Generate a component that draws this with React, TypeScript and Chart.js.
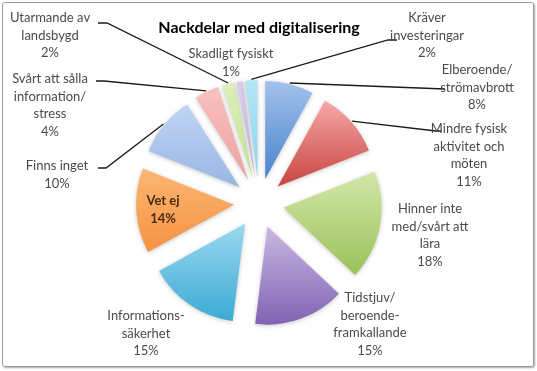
import React, { useEffect, useRef } from 'react';
import { Chart, registerables } from 'chart.js';

Chart.register(...registerables);

// ---- data ----
const TITLE = 'Nackdelar med digitalisering';
const categories = [
  'Elberoende/ strömavbrott',
  'Mindre fysisk aktivitet och möten',
  'Hinner inte med/svårt att lära',
  'Tidstjuv/ beroende-framkallande',
  'Informations-säkerhet',
  'Vet ej',
  'Finns inget',
  'Svårt att sålla information/ stress',
  'Utarmande av landsbygd',
  'Skadligt fysiskt',
  'Kräver investeringar',
];
const values = [8, 11, 18, 15, 15, 14, 10, 4, 2, 1, 2];
const labelLines = [
  ['Elberoende/', 'strömavbrott'],
  ['Mindre fysisk', 'aktivitet och', 'möten'],
  ['Hinner inte', 'med/svårt att', 'lära'],
  ['Tidstjuv/', 'beroende-', 'framkallande'],
  ['Informations-', 'säkerhet'],
  ['Vet ej'],
  ['Finns inget'],
  ['Svårt att sålla', 'information/', 'stress'],
  ['Utarmande av', 'landsbygd'],
  ['Skadligt fysiskt'],
  ['Kräver', 'investeringar'],
];

// ---- style ----
const PALETTE: [string, string][] = [
  ['#a3c2ec', '#4a84cc'],
  ['#f5a9a7', '#c94441'],
  ['#d2e8a8', '#9bc15a'],
  ['#c9b9e2', '#8163b4'],
  ['#9ad9f0', '#3caad4'],
  ['#fcb674', '#f59342'],
  ['#c0d5f4', '#98b6e4'],
  ['#f9c0c0', '#eda2a2'],
  ['#ddf0b8', '#c6e096'],
  ['#d8cfec', '#bfb1dd'],
  ['#b3e6f6', '#8fd4ed'],
];
const EXPLODE = 25;
const RADIUS = 98;
const FONT = 'Lato, "Open Sans", sans-serif';
const LINE_H = 17.6;
// label text anchor (center x, first line y) and leader stub points near the label
const LABEL_LAYOUT: { x: number; y: number; bold?: boolean; color?: string; leader?: [number, number][] }[] = [
  { x: 477, y: 70, leader: [[445, 89]] },
  { x: 469, y: 129, leader: [[442, 131], [436, 131]] },
  { x: 430, y: 209 },
  { x: 370, y: 298 },
  { x: 146, y: 316 },
  { x: 163, y: 201, bold: true, color: '#4a2a10' },
  { x: 57, y: 166, leader: [[98, 168], [106, 168]] },
  { x: 50, y: 79, leader: [[96, 81], [104, 81]] },
  { x: 50, y: 18, leader: [[98, 23], [107, 23]] },
  { x: 231, y: 54 },
  { x: 427, y: 18, leader: [[397, 40], [388, 40]] },
];

const piePlugin = {
  id: 'explodedPie',
  beforeDatasetsDraw(chart: any) {
    const meta = chart.getDatasetMeta(0);
    const ca = chart.chartArea;
    const cx = (ca.left + ca.right) / 2;
    const cy = (ca.top + ca.bottom) / 2;
    const ctx = chart.ctx;
    meta.data.forEach((arc: any, i: number) => {
      const mid = (arc.startAngle + arc.endAngle) / 2;
      arc.x = cx + Math.cos(mid) * EXPLODE;
      arc.y = cy + Math.sin(mid) * EXPLODE;
      let minY = arc.y;
      let maxY = arc.y;
      for (let k = 0; k <= 60; k++) {
        const a = arc.startAngle + ((arc.endAngle - arc.startAngle) * k) / 60;
        const y = arc.y + Math.sin(a) * arc.outerRadius;
        minY = Math.min(minY, y);
        maxY = Math.max(maxY, y);
      }
      const g = ctx.createLinearGradient(0, minY, 0, maxY);
      g.addColorStop(0, PALETTE[i][0]);
      g.addColorStop(1, PALETTE[i][1]);
      arc.options = Object.assign({}, arc.options, { backgroundColor: g });
    });
    ctx.save();
    ctx.shadowColor = 'rgba(0,0,0,0.22)';
    ctx.shadowBlur = 4;
    ctx.shadowOffsetY = 1;
  },
  afterDatasetsDraw(chart: any) {
    const ctx = chart.ctx;
    ctx.restore();
    const meta = chart.getDatasetMeta(0);
    ctx.save();
    // leader lines
    ctx.strokeStyle = '#1a1a1a';
    ctx.lineWidth = 1.3;
    meta.data.forEach((arc: any, i: number) => {
      const lay = LABEL_LAYOUT[i];
      if (!lay.leader) return;
      const mid = (arc.startAngle + arc.endAngle) / 2;
      const ex = arc.x + Math.cos(mid) * (arc.outerRadius + 1);
      const ey = arc.y + Math.sin(mid) * (arc.outerRadius + 1);
      ctx.beginPath();
      lay.leader.forEach((p, k) => (k === 0 ? ctx.moveTo(p[0], p[1]) : ctx.lineTo(p[0], p[1])));
      ctx.lineTo(ex, ey);
      ctx.stroke();
    });
    // labels
    ctx.textAlign = 'center';
    ctx.textBaseline = 'middle';
    values.forEach((v, i) => {
      const lay = LABEL_LAYOUT[i];
      const lines = [...labelLines[i], `${v}%`];
      ctx.font = `${lay.bold ? 'bold ' : ''}13px ${FONT}`;
      ctx.fillStyle = lay.color || '#4a4a4a';
      lines.forEach((t, k) => ctx.fillText(t, lay.x, lay.y + k * LINE_H));
    });
    ctx.restore();
  },
};

export default function App() {
  const ref = useRef<HTMLCanvasElement>(null);
  useEffect(() => {
    const chart = new Chart(ref.current!, {
      type: 'pie',
      data: {
        labels: categories,
        datasets: [
          {
            data: values,
            backgroundColor: PALETTE.map((p) => p[1]),
            borderWidth: 0,
            radius: RADIUS,
          } as any,
        ],
      },
      options: {
        responsive: false,
        animation: false,
        events: [],
        layout: { padding: { left: 0, right: 19, top: 0, bottom: 2 } },
        plugins: {
          legend: { display: false },
          tooltip: { enabled: false },
          title: {
            display: true,
            text: TITLE,
            color: '#000',
            font: { family: FONT, size: 16, weight: 'bold' },
            padding: { top: 18, bottom: 0 },
          },
        },
      },
      plugins: [piePlugin],
    });
    return () => chart.destroy();
  }, []);
  return (
    <div style={{ position: 'fixed', left: 0, top: 0, width: 537, height: 371, background: '#fff' }}>
      <canvas ref={ref} width={537} height={371} style={{ position: 'absolute', left: 0, top: 0 }} />
      <div
        style={{
          position: 'absolute',
          left: 2,
          top: 2,
          width: 530,
          height: 363,
          border: '1px solid #9c9c9c',
          borderRadius: 3,
          boxShadow: '1px 1px 2px rgba(0,0,0,0.35)',
          pointerEvents: 'none',
        }}
      />
    </div>
  );
}
